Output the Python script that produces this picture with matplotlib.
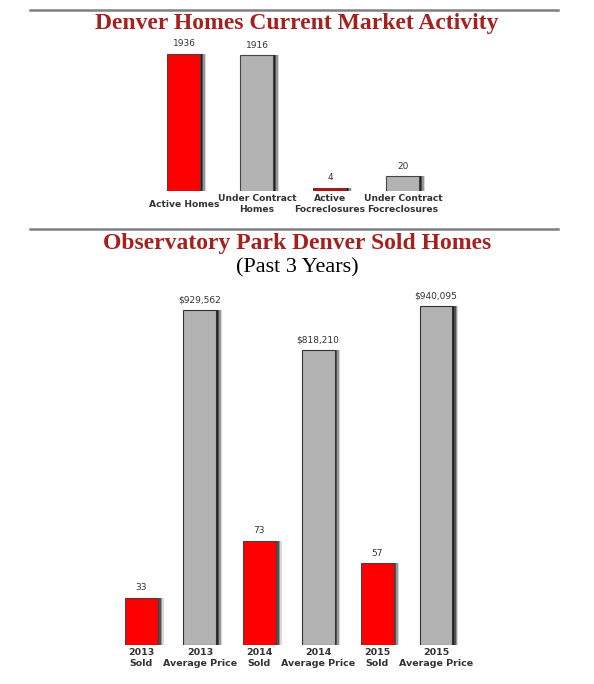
import matplotlib
matplotlib.use("Agg")
import matplotlib.pyplot as plt
from matplotlib.lines import Line2D

# top chart data
market_labels = ["Active Homes", "Under Contract\nHomes", "Active\nFocreclosures", "Under Contract\nFocreclosures"]
market_values = [1936, 1916, 4, 20]
market_colors = ["#ff0000", "#b3b3b3", "#e00000", "#b3b3b3"]

# bottom chart data
sold_labels = ["2013\nSold", "2013\nAverage Price", "2014\nSold", "2014\nAverage Price", "2015\nSold", "2015\nAverage Price"]
sold_counts = [33, 73, 57]
avg_prices = [929562, 818210, 940095]

W, H = 594, 684
RED = "#ff0000"
GRAY = "#b3b3b3"
TITLE_RED = "#a4211f"


def fx(px):
    return px / W


def fy(py):
    return 1 - py / H


def shadow_bars(ax, xs, vals, width, unit_px):
    # soft drop shadow to the right of each bar
    for off, a in [(1.5, 0.6), (3, 0.45), (4.5, 0.3), (6, 0.15)]:
        ax.bar([x + off / unit_px for x in xs], vals, width=width, color="black",
               alpha=a, linewidth=0, zorder=1)


def value_labels(ax, xs, vals, texts):
    for x, v, t in zip(xs, vals, texts):
        ax.annotate(t, (x, v), xytext=(0, 4), textcoords="offset points",
                    ha="center", va="bottom", fontsize=6.5, color="#333333",
                    family="DejaVu Sans")


def clean(ax):
    for s in ax.spines.values():
        s.set_visible(False)
    ax.set_yticks([])
    ax.tick_params(axis="x", length=0)


fig = plt.figure(figsize=(W / 100, H / 100), dpi=100)

# separator lines
for y in (10, 229):
    fig.add_artist(Line2D([fx(30), fx(558)], [fy(y), fy(y)], color="#808080", lw=1.8))

fig.text(0.5, fy(23), "Denver Homes Current Market Activity", ha="center", va="center",
         fontsize=17, color=TITLE_RED, family="Liberation Serif", weight="bold")
fig.text(0.5, fy(244), "Observatory Park Denver Sold Homes", ha="center", va="center",
         fontsize=17, color=TITLE_RED, family="Liberation Serif", weight="bold")
fig.text(0.5, fy(268), "(Past 3 Years)", ha="center", va="center",
         fontsize=16, color="black", family="Liberation Serif")

# ---- top chart: homes on one scale, foreclosures on another
t_left, t_right, t_top, t_bot = 120, 470, 40, 191
ax1 = fig.add_axes([fx(t_left), fy(t_bot), fx(t_right - t_left), (t_bot - t_top) / H])
ax1b = ax1.twinx()
unit1 = 73.0
xlim1 = ((t_left - 184) / unit1, (t_right - 184) / unit1)
bw1 = 33 / unit1
x_all = list(range(len(market_values)))
homes_x, fore_x = x_all[:2], x_all[2:]
homes_v, fore_v = market_values[:2], market_values[2:]

shadow_bars(ax1, homes_x, homes_v, bw1, unit1)
ax1.bar(homes_x, homes_v, width=bw1, color=market_colors[:2], edgecolor="#444444", linewidth=0.8, zorder=2)
value_labels(ax1, homes_x, homes_v, [str(v) for v in homes_v])
ax1.set_ylim(0, (t_bot - t_top) / 0.0708)

shadow_bars(ax1b, fore_x, fore_v, bw1, unit1)
ax1b.bar(fore_x, fore_v, width=bw1, color=market_colors[2:], edgecolor="#444444", linewidth=0.8, zorder=2)
value_labels(ax1b, fore_x, fore_v, [str(v) for v in fore_v])
ax1b.set_ylim(0, (t_bot - t_top) / 0.74)

for a in (ax1, ax1b):
    clean(a)
ax1.set_xlim(*xlim1)
ax1.set_xticks(x_all)
ax1.set_xticklabels(market_labels, fontsize=6.6, weight="bold", color="#333333",
                    linespacing=1.35)
for lab in ax1.get_xticklabels():
    lab.set_va("center")
ax1.tick_params(axis="x", pad=9.5)

# ---- bottom chart: sold counts and average price on separate scales
b_left, b_right, b_top, b_bot = 100, 490, 285, 645
ax2 = fig.add_axes([fx(b_left), fy(b_bot), fx(b_right - b_left), (b_bot - b_top) / H])
ax2b = ax2.twinx()
unit2 = 59.0
xlim2 = ((b_left - 141) / unit2, (b_right - 141) / unit2)
bw2 = 33 / unit2
x2 = list(range(len(sold_labels)))
sold_x, price_x = x2[0::2], x2[1::2]

shadow_bars(ax2, sold_x, sold_counts, bw2, unit2)
ax2.bar(sold_x, sold_counts, width=bw2, color=RED, edgecolor="#444444", linewidth=0.8, zorder=2)
value_labels(ax2, sold_x, sold_counts, [str(v) for v in sold_counts])
ax2.set_ylim(0, (b_bot - b_top) / 1.43)

shadow_bars(ax2b, price_x, avg_prices, bw2, unit2)
ax2b.bar(price_x, avg_prices, width=bw2, color=GRAY, edgecolor="#333333", linewidth=0.8, zorder=2)
value_labels(ax2b, price_x, avg_prices, [f"${v:,}" for v in avg_prices])
ax2b.set_ylim(0, (b_bot - b_top) / 3.605e-4)

for a in (ax2, ax2b):
    clean(a)
ax2.set_xlim(*xlim2)
ax2.set_xticks(x2)
ax2.set_xticklabels(sold_labels, fontsize=6.8, weight="bold", color="#333333",
                    linespacing=1.35)
ax2.tick_params(axis="x", pad=2)

fig.savefig("out.png", dpi=100)
